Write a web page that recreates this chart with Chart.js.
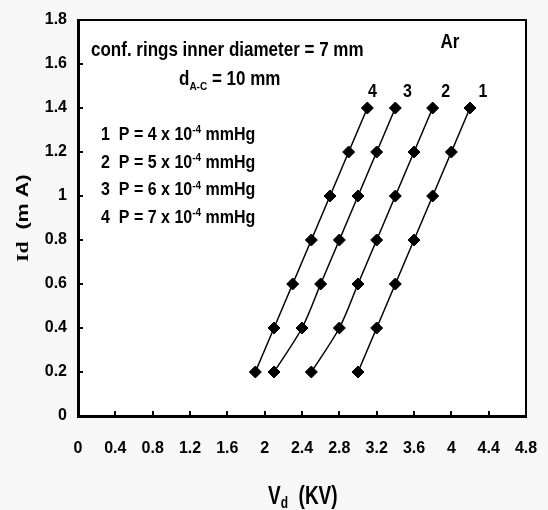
<!DOCTYPE html>
<html>
<head>
<meta charset="utf-8">
<script src="https://cdn.jsdelivr.net/npm/chart.js@4/dist/chart.umd.min.js"></script>
<style>
  html, body { margin: 0; padding: 0; background: #f7f7f7; }
  canvas { display: block; }
</style>
</head>
<body>
<canvas id="c" width="548" height="510"></canvas>
<script>
// Discharge current Id (mA) against discharge voltage Vd (kV), argon
const current = [0.2, 0.4, 0.6, 0.8, 1.0, 1.2, 1.4];
const vd1 = [3.0, 3.2, 3.4, 3.6, 3.8, 4.0, 4.2]; // P = 4 x 10^-4 mmHg
const vd2 = [2.5, 2.8, 3.0, 3.2, 3.4, 3.6, 3.8]; // P = 5 x 10^-4 mmHg
const vd3 = [2.1, 2.4, 2.6, 2.8, 3.0, 3.2, 3.4]; // P = 6 x 10^-4 mmHg
const vd4 = [1.9, 2.1, 2.3, 2.5, 2.7, 2.9, 3.1]; // P = 7 x 10^-4 mmHg
const curveNames = ['1', '2', '3', '4'];
const pressureMantissa = ['4', '5', '6', '7'];
const xTickLabels = ['0', '0.4', '0.8', '1.2', '1.6', '2', '2.4', '2.8', '3.2', '3.6', '4', '4.4', '4.8'];
const yTickLabels = ['0', '0.2', '0.4', '0.6', '0.8', '1', '1.2', '1.4', '1.6', '1.8'];

const SANS = "'Liberation Sans', Arial, Helvetica, sans-serif";
const SERIF = "'Liberation Serif', 'Times New Roman', serif";

function pairs(xs, ys) { return xs.map((x, i) => ({ x: x, y: ys[i] })); }

function makeSet(label, xs) {
  return {
    label: label,
    data: pairs(xs, current),
    borderColor: '#000',
    borderWidth: 1.5,
    backgroundColor: '#000',
    pointStyle: 'rectRot',
    pointRadius: 6,
    pointBorderWidth: 1,
    pointBackgroundColor: '#000',
    pointBorderColor: '#000',
    tension: 0.3,
    fill: false
  };
}

// Draw a run of text pieces (normal / sub / superscript) on one baseline,
// stretched vertically by sy.
function richText(ctx, x, y, pieces, sy) {
  ctx.save();
  ctx.translate(x, y);
  ctx.scale(1, sy);
  ctx.textBaseline = 'alphabetic';
  ctx.textAlign = 'left';
  ctx.fillStyle = '#000';
  let cx = 0;
  for (const p of pieces) {
    ctx.font = 'bold ' + p.size + 'px ' + (p.family || SANS);
    ctx.fillText(p.t, cx, p.dy || 0);
    cx += ctx.measureText(p.t).width;
  }
  ctx.restore();
  return cx;
}

const framePlugin = {
  id: 'frame',
  beforeDraw(chart) {
    const { ctx, chartArea: a } = chart;
    ctx.save();
    ctx.fillStyle = '#f7f7f7';
    ctx.fillRect(0, 0, chart.width, chart.height);
    ctx.fillStyle = '#fff';
    ctx.fillRect(a.left, a.top, a.right - a.left, a.bottom - a.top);
    ctx.restore();
  },
  afterDraw(chart) {
    const { ctx, chartArea: a, scales } = chart;
    ctx.save();
    // top and right border of the plot area
    ctx.strokeStyle = '#000';
    ctx.lineWidth = 2;
    ctx.beginPath();
    ctx.moveTo(a.left, a.top);
    ctx.lineTo(a.right, a.top);
    ctx.lineTo(a.right, a.bottom);
    ctx.stroke();
    // inward tick marks
    ctx.lineWidth = 2;
    ctx.beginPath();
    scales.x.ticks.forEach((t, i) => {
      const px = Math.round(scales.x.getPixelForTick(i));
      if (px <= a.left + 1 || px >= a.right - 1) return;
      ctx.moveTo(px, a.bottom);
      ctx.lineTo(px, a.bottom - 5);
    });
    scales.y.ticks.forEach((t, i) => {
      const py = Math.round(scales.y.getPixelForTick(i));
      if (py >= a.bottom - 1 || py <= a.top + 1) return;
      ctx.moveTo(a.left, py);
      ctx.lineTo(a.left + 5, py);
    });
    ctx.stroke();
    ctx.restore();

    // curve numbers above the last point of each curve
    const nudge = [13, 13, 12, 5];
    chart.data.datasets.forEach((ds, i) => {
      const pts = chart.getDatasetMeta(i).data;
      const last = pts[pts.length - 1];
      ctx.save();
      ctx.font = 'bold 16px ' + SANS;
      ctx.textAlign = 'center';
      ctx.textBaseline = 'alphabetic';
      ctx.fillStyle = '#000';
      ctx.translate(last.x + nudge[i], last.y - 11);
      ctx.scale(1, 1.15);
      ctx.fillText(ds.label, 0, 0);
      ctx.restore();
    });

    // gas label
    ctx.save();
    ctx.font = 'bold 17px ' + SANS;
    ctx.textAlign = 'center';
    ctx.fillStyle = '#000';
    ctx.translate(450, 48);
    ctx.scale(1, 1.15);
    ctx.fillText('Ar', 0, 0);
    ctx.restore();

    // experimental conditions
    richText(ctx, 91, 56, [{ t: 'conf. rings inner diameter = 7 mm', size: 17 }], 1.15);
    richText(ctx, 179, 85, [
      { t: 'd', size: 17 },
      { t: 'A-C', size: 10, dy: 4 },
      { t: ' = 10 mm', size: 17 }
    ], 1.15);
    curveNames.forEach((n, i) => {
      richText(ctx, 101, 140 + i * 27.7, [
        { t: n + '  P = ' + pressureMantissa[i] + ' x 10', size: 16 },
        { t: '-4', size: 10, dy: -6 },
        { t: ' mmHg', size: 16 }
      ], 1.15);
    });

    // x axis title
    richText(ctx, 268, 504, [
      { t: 'V', size: 19 },
      { t: 'd', size: 12, dy: 3 },
      { t: '  (KV)', size: 19 }
    ], 1.4);

    // y axis title (rotated)
    ctx.save();
    ctx.translate(28, 262);
    ctx.rotate(-Math.PI / 2);
    ctx.scale(1.35, 1);
    ctx.fillStyle = '#000';
    ctx.textBaseline = 'alphabetic';
    ctx.textAlign = 'left';
    ctx.font = 'bold 16px ' + SERIF;
    ctx.fillText('Id', 0, 0);
    let w = ctx.measureText('Id').width;
    ctx.font = 'bold 16px ' + SANS;
    ctx.fillText('  (m A)', w, 0);
    ctx.restore();
  }
};

new Chart(document.getElementById('c'), {
  type: 'line',
  data: {
    datasets: [
      makeSet(curveNames[0], vd1),
      makeSet(curveNames[1], vd2),
      makeSet(curveNames[2], vd3),
      makeSet(curveNames[3], vd4)
    ]
  },
  options: {
    responsive: false,
    animation: false,
    layout: { padding: { top: 20, right: 22, left: 0, bottom: 0 } },
    plugins: { legend: { display: false }, tooltip: { enabled: false } },
    scales: {
      x: {
        type: 'linear',
        min: 0,
        max: 4.8,
        afterFit(s) { s.height = 94; s.paddingLeft = 0; s.paddingRight = 0; },
        grid: { display: true, drawOnChartArea: false, drawTicks: false },
        border: { display: true, color: '#000', width: 3 },
        ticks: {
          stepSize: 0.4,
          autoSkip: false,
          maxRotation: 0,
          padding: 23,
          color: '#000',
          font: { family: SANS, size: 16, weight: 'bold' },
          callback: (v, i) => xTickLabels[i]
        }
      },
      y: {
        type: 'linear',
        min: 0,
        max: 1.8,
        afterFit(s) { s.width = 78; s.paddingTop = 0; s.paddingBottom = 0; },
        grid: { display: true, drawOnChartArea: false, drawTicks: false },
        border: { display: true, color: '#000', width: 3 },
        ticks: {
          stepSize: 0.2,
          autoSkip: false,
          padding: 11,
          color: '#000',
          font: { family: SANS, size: 16, weight: 'bold' },
          callback: (v, i) => yTickLabels[i]
        }
      }
    }
  },
  plugins: [framePlugin]
});
</script>
</body>
</html>
